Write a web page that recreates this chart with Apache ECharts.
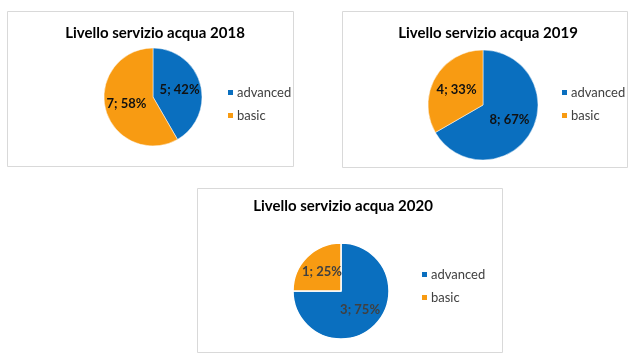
<!DOCTYPE html>
<html><head><meta charset="utf-8">
<script src="https://cdn.jsdelivr.net/npm/echarts@6/dist/echarts.min.js"></script>
<style>html,body{margin:0;padding:0;background:#fff}#c{width:640px;height:362px}</style>
</head><body><div id="c"></div>
<script>
const categories = ['advanced', 'basic'];
const years = ['2018', '2019', '2020'];
const values2018 = [5, 7];
const values2019 = [8, 4];
const values2020 = [3, 1];
const titleText = 'Livello servizio acqua ';

const allValues = [values2018, values2019, values2020];
const colors = ['#0A6FBF', '#F89B12'];
const font = 'Lato, "Open Sans", sans-serif';

const panels = [
  {box:[7,11,293,166], center:[153,97], r:49, titleX:150, titleY:21, legX:221, legY:81},
  {box:[342,11,627,167], center:[483,105], r:55, titleX:483, titleY:21, legX:555, legY:81},
  {box:[197,188,502,352], center:[341,291], r:48, titleX:338, titleY:194, legX:415, legY:263}
];

const chart = echarts.init(document.getElementById('c'), null, {renderer:'canvas'});
const graphics = panels.map(p => ({
  type:'rect', shape:{x:p.box[0]+0.5, y:p.box[1]+0.5, width:p.box[2]-p.box[0], height:p.box[3]-p.box[1]},
  style:{fill:'#fff', stroke:'#D9D9D9', lineWidth:1}, z:-10
}));
const titles = panels.map((p,i) => ({
  text: titleText + years[i], left: p.titleX, top: p.titleY, textAlign:'center',
  textStyle:{fontFamily:font, fontWeight:'bold', fontSize:15, color:'#000'}
}));
const legends = panels.map((p,i) => ({
  data: categories, left: p.legX, top: p.legY, orient:'vertical', itemWidth:7, itemHeight:7,
  itemGap:10, icon:'rect', selectedMode:false,
  textStyle:{fontFamily:font, fontSize:13, color:'#404040', padding:[0,0,0,-2]}
}));
const labelColors = ['#111','#111','#404040'];
const series = panels.map((p,i) => ({
  type:'pie', center:p.center, radius:p.r, startAngle:90, clockwise:true,
  avoidLabelOverlap:false,
  itemStyle:{borderColor:'#fff', borderWidth: i===2 ? 1.5 : 0.5},
  label:{show:true, position:'inside', formatter: d => d.value + '; ' + Math.round(d.percent) + '%',
    fontFamily:font, fontWeight:'bold', fontSize:13, color:labelColors[i]},
  labelLine:{show:false},
  emphasis:{disabled:true},
  data: categories.map((c,k) => ({name:c, value:allValues[i][k], itemStyle:{color:colors[k]}}))
}));
chart.setOption({
  animation:false,
  title: titles,
  legend: legends,
  graphic: graphics,
  series: series
});
</script></body></html>
